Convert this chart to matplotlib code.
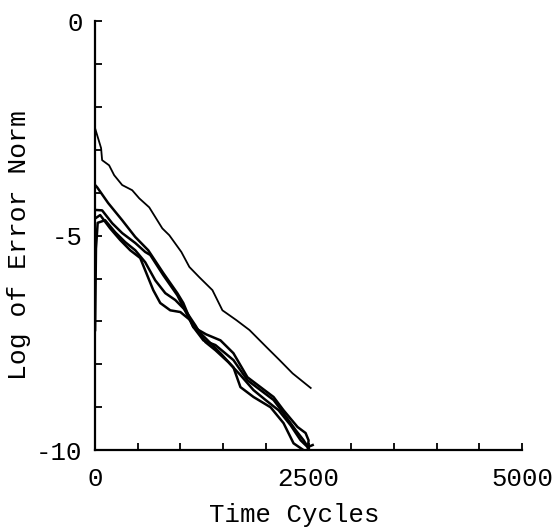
import matplotlib
matplotlib.use('Agg')
from matplotlib import pyplot as plt

# upper curve
tA = [0, 70, 82, 164, 223, 317, 434, 517, 634, 787, 869, 1010, 1104, 1221,
      1374, 1491, 1655, 1808, 2008, 2160, 2313, 2525]
eA = [-2.5, -2.96, -3.24, -3.36, -3.59, -3.82, -3.94, -4.13, -4.34, -4.83,
      -4.99, -5.38, -5.73, -5.97, -6.27, -6.74, -6.97, -7.20, -7.60, -7.90,
      -8.21, -8.55]

# bundle curves
tB = [0, 23, 153, 317, 470, 622, 798, 963, 1033, 1150, 1300, 1468, 1620,
      1784, 1937, 2090, 2207, 2371, 2465, 2500, 2490]
eB = [-3.82, -3.87, -4.24, -4.64, -5.03, -5.34, -5.87, -6.34, -6.57, -7.13,
      -7.30, -7.44, -7.74, -8.30, -8.53, -8.76, -9.07, -9.46, -9.60, -9.77,
      -10.0]

tC = [0, 82, 200, 317, 470, 587, 646, 798, 963, 1150, 1268, 1409, 1620, 1784,
      1937, 2090, 2207, 2348, 2442, 2500]
eC = [-4.4, -4.41, -4.71, -4.94, -5.17, -5.38, -5.45, -5.92, -6.39, -7.13,
      -7.44, -7.55, -7.90, -8.37, -8.60, -8.83, -9.14, -9.53, -9.77, -9.95]

tD = [0, 59, 176, 293, 411, 528, 681, 763, 880, 998, 1115, 1233, 1468, 1620,
      1702, 1855, 2055, 2207, 2324, 2442]
eD = [-4.6, -4.52, -4.83, -5.10, -5.34, -5.52, -6.27, -6.57, -6.74, -6.78,
      -6.97, -7.27, -7.74, -8.07, -8.53, -8.76, -9.0, -9.37, -9.84, -10.0]

tE = [0, 10, 30, 117, 235, 352, 470, 587, 704, 822, 939, 1057, 1174, 1291,
      1409, 1561, 1702, 1855, 1996, 2149, 2290, 2407, 2490, 2548]
eE = [-7.2, -5.3, -4.7, -4.64, -4.92, -5.15, -5.34, -5.62, -6.04, -6.34,
      -6.50, -6.74, -7.09, -7.48, -7.67, -7.95, -8.25, -8.60, -8.83, -9.07,
      -9.42, -9.77, -9.93, -9.88]

xticks = [0, 500, 1000, 1500, 2000, 2500, 3000, 3500, 4000, 4500, 5000]
xlabels = ['0', '', '', '', '', '2500', '', '', '', '', '5000']
yticks = [0, -1, -2, -3, -4, -5, -6, -7, -8, -9, -10]
ylabels = ['0', '', '', '', '', '-5', '', '', '', '', '-10']

plt.rcParams['font.family'] = ['Liberation Mono', 'DejaVu Sans Mono']

fig = plt.figure(figsize=(5.53, 5.29), dpi=100)
ax = fig.add_axes([0.172, 0.149, 0.772, 0.811])

ax.plot(tA, eA, color='black', lw=1.3)
for t, e in [(tB, eB), (tC, eC), (tD, eD), (tE, eE)]:
    ax.plot(t, e, color='black', lw=1.8)

ax.set_xlim(0, 5000)
ax.set_ylim(-10, 0)
ax.spines['top'].set_visible(False)
ax.spines['right'].set_visible(False)
ax.spines['left'].set_linewidth(1.6)
ax.spines['bottom'].set_linewidth(1.6)

ax.set_xticks(xticks)
ax.set_xticklabels(xlabels)
ax.set_yticks(yticks)
ax.set_yticklabels(ylabels)
ax.tick_params(axis='both', direction='in', length=5, width=1.3,
               labelsize=18.5)
ax.tick_params(axis='x', pad=12)
ax.tick_params(axis='y', pad=9)

ax.set_xlabel('Time Cycles', fontsize=18.5)
ax.set_ylabel('Log of Error Norm', fontsize=19)
ax.xaxis.set_label_coords(0.466, -0.122)
ax.yaxis.set_label_coords(-0.15, 0.478)

fig.savefig('out.png', dpi=100)
